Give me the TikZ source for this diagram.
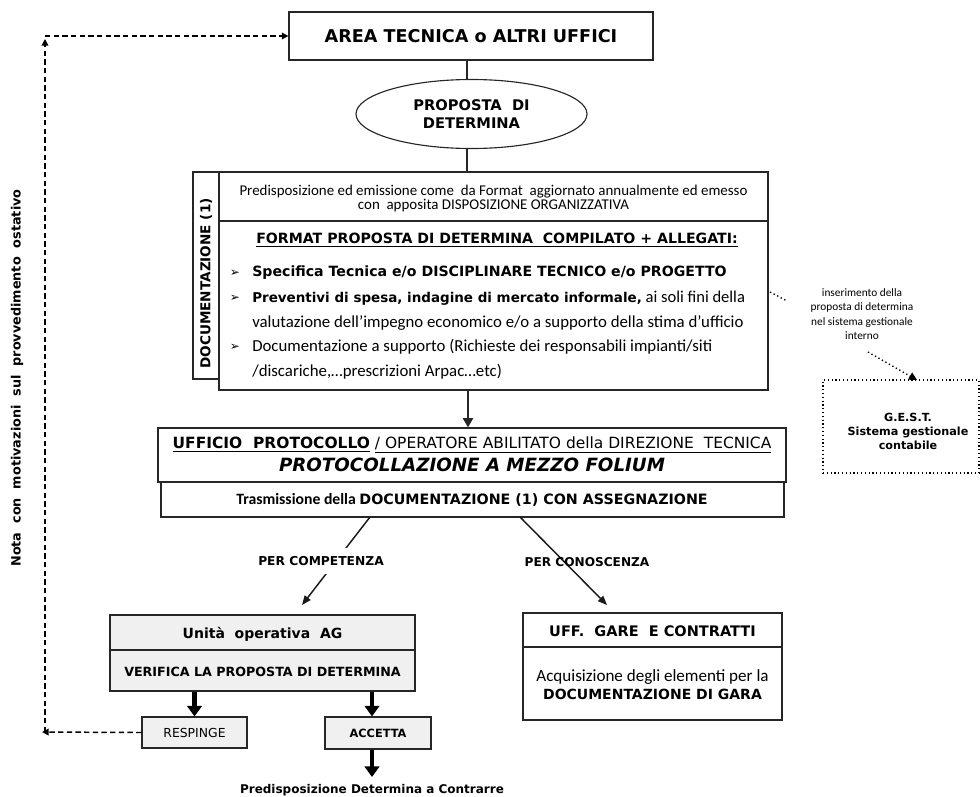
\documentclass[tikz,border=0pt]{standalone}
\usepackage{fontspec}
\setmainfont{Carlito}
\newfontfamily\verd{DejaVu Sans}[BoldFont={DejaVu Sans Bold},ItalicFont={DejaVu Sans Oblique},BoldItalicFont={DejaVu Sans Bold Oblique}]
\newfontfamily\symf{DejaVu Sans}
\usetikzlibrary{arrows.meta,shapes.geometric,fit}
\newcommand{\fs}[1]{\fontsize{#1}{#1}\selectfont}
\begin{document}
\begin{tikzpicture}[x=0.75pt,y=-0.75pt,
  box/.style={draw=black!85,line width=0.85pt,inner sep=0pt,align=center},
  gbox/.style={box,fill=black!6},
  conn/.style={line width=2.2pt,draw=black!85},
  midarrow/.style={line width=1.8pt,draw=black!85,-{Triangle[length=7pt,width=7.5pt]}},
  thinarrow/.style={line width=1.1pt,draw=black!90,-{Triangle[length=7pt,width=5.5pt]}},
  bigarrow/.style={line width=3.4pt,draw=black,-{Triangle[length=8pt,width=11pt]}},
  dasharrow/.style={line width=1.1pt,dash pattern=on 4pt off 2.5pt,-{Triangle[length=5pt,width=5pt]}},
  dotline/.style={line width=1pt,dotted},
  txt/.style={inner sep=0pt,align=center}
]
\useasboundingbox (0,0) rectangle (980,796);

% top
\node[box,fit={(289,12) (653,60)}] (top) {};
\node[txt] (toptxt) at (471,36) {\verd\bfseries\fs{13.2}AREA TECNICA o ALTRI UFFICI};
\node[draw=black!85,line width=0.85pt,ellipse,minimum width=231*0.75pt,minimum height=69*0.75pt,inner sep=0pt,align=center,font=\verd\bfseries\fontsize{11}{13.5}\selectfont] (prop) at (471.5,114) {PROPOSTA\ \ DI\\DETERMINA};

% documentazione
\node[box,fit={(193,172) (219,379)}] (strip) {};
\node[txt,rotate=90] (striptxt) at (206,283.5) {\verd\bfseries\fs{10.2}DOCUMENTAZIONE (1)};
\node[box,fill=white,fit={(219,172) (768,221)}] (hdr) {};
\node[txt,font=\fontsize{11.2}{10.5}\selectfont] (hdrtxt) at (493.5,199) {Predisposizione ed emissione come\ \ da Format\ \ aggiornato annualmente ed emesso\\con\ \ apposita DISPOSIZIONE ORGANIZZATIVA};
\node[box,fill=white,fit={(219,221) (768,390)}] (main) {};
\node[txt] (fmt) at (497,240) {\verd\bfseries\fs{10.6}\underline{FORMAT PROPOSTA DI DETERMINA\ \ COMPILATO + ALLEGATI:}};
\node[txt] (b1) at (235,273) {\symf\fs{9}➢};
\node[txt,anchor=west] (l1) at (252,273) {\verd\bfseries\fs{10.6}Specifica Tecnica e/o DISCIPLINARE TECNICO e/o PROGETTO};
\node[txt] (b2) at (235,298) {\symf\fs{9}➢};
\node[txt,anchor=west] (l2) at (252,298) {\fs{12.4}{\verd\bfseries\fs{10.1}Preventivi di spesa, indagine di mercato informale,} ai soli fini della};
\node[txt,anchor=west] (l3) at (252,323) {\fs{12.6}valutazione dell’impegno economico e/o a supporto della stima d’ufficio};
\node[txt] (b4) at (235,347) {\symf\fs{9}➢};
\node[txt,anchor=west] (l4) at (252,347) {\fs{12.6}Documentazione a supporto (Richieste dei responsabili impianti/siti};
\node[txt,anchor=west] (l5) at (252,372) {\fs{12.6}/discariche,…prescrizioni Arpac…etc)};

\draw[conn] (top.south -| 467,0) -- (prop.north -| 467,0);
\draw[conn] (prop.south -| 467,0) -- (hdr.north -| 467,0);

% G.E.S.T.
\coordinate (d1) at (770,292);
\coordinate (d2) at (787,301);
\draw[dotline] (d1) -- (d2);
\node[txt,font=\fontsize{8.5}{10.9}\selectfont] (ins) at (862,314) {inserimento della\\proposta di determina\\nel sistema gestionale\\interno};
\node[box,draw=black,dotted,line width=0.9pt,fit={(823,380) (979,473)}] (gest) {};
\node[txt,font=\verd\bfseries\fontsize{8.4}{10.5}\selectfont] (gesttxt) at (908,431) {G.E.S.T.\\Sistema gestionale\\contabile};
\coordinate (d3) at (868,352);
\coordinate (d4) at (917,380);
\draw[dotline,-{Triangle[length=6pt,width=6pt]}] (d3) -- (d4);

% protocollo
\node[box,fit={(158,428) (786,482)}] (up) {};
\draw[midarrow] (main.south -| 468,0) -- (up.north -| 468,0);
\node[txt] (up1) at (472,445) {\verd\fs{11.6}\underline{\bfseries UFFICIO\ \ PROTOCOLLO}\ \underline{/ OPERATORE ABILITATO della DIREZIONE\ \ TECNICA}};
\node[txt] (up2) at (472,465) {\verd\bfseries\itshape\fs{13.7}PROTOCOLLAZIONE A MEZZO FOLIUM};
\node[box,fill=white,fit={(161,482) (784,517)}] (trans) {};
\node[txt] (transtxt) at (472,500) {\bfseries\fs{11.8}Trasmissione della {\verd\fs{10.7}DOCUMENTAZIONE (1) CON ASSEGNAZIONE}};

% diagonals
\coordinate (tL) at (370,517);
\coordinate (aL) at (302,605);
\draw[thinarrow] (tL) -- (aL);
\node[txt,fill=white,inner ysep=6pt] (pcomp) at (321,561) {\verd\bfseries\fs{9.2}PER COMPETENZA};
\coordinate (tR) at (520,517);
\coordinate (aR) at (607,605);
\draw[thinarrow] (tR) -- (aR);
\node[txt] (pcon) at (587,562) {\verd\bfseries\fs{9.1}PER CONOSCENZA};

% unita operativa
\node[gbox,fit={(110,615) (415,650)}] (uo) {};
\node[txt] (uotxt) at (262.5,634) {\verd\bfseries\fs{10.5}Unità\ \ operativa\ \ AG};
\node[gbox,fit={(110,650) (415,691)}] (ver) {};
\node[txt] (vertxt) at (262.5,672) {\verd\bfseries\fs{9.5}VERIFICA LA PROPOSTA DI DETERMINA};
\node[gbox,fit={(142,717) (247,748)}] (resp) {};
\node[txt] (resptxt) at (resp.center) {\verd\fs{9.3}RESPINGE};
\node[gbox,fit={(325,717) (431,749)}] (acc) {};
\node[txt] (acctxt) at (acc.center) {\verd\bfseries\fs{8.5}ACCETTA};
\draw[bigarrow] (ver.south -| resp.north) -- (resp.north);
\draw[bigarrow] (ver.south -| 372,0) -- (acc.north -| 372,0);
\node[txt] (pred) at (372,790) {\verd\bfseries\fs{9}Predisposizione Determina a Contrarre};
\draw[bigarrow] (acc.south -| 372,0) -- (372,777);

% gare
\node[box,fit={(523,613) (782,647)}] (gare) {};
\node[txt] (garetxt) at (652.5,631) {\verd\bfseries\fs{10.9}UFF.\ \ GARE\ \ E CONTRATTI};
\node[box,fit={(523,647) (782,720)}] (gare2) {};
\node[txt,font=\fontsize{12.8}{13.5}\selectfont] (gare2txt) at (652.5,685) {Acquisizione degli elementi per la\\{\verd\bfseries\fs{10.5}DOCUMENTAZIONE DI GARA}};

% dashed return
\coordinate (dl) at (42,732);
\coordinate (dv) at (45,732);
\coordinate (dt) at (45,39);
\coordinate (dh) at (45,36);
\draw[dasharrow] (resp.west) -- (dl);
\draw[dasharrow] (dv) -- (dt);
\draw[dasharrow] (dh) -- (top.west);
\node[txt,rotate=90] (nota) at (17,378) {\verd\bfseries\fs{9.6}Nota\ \ con\ \ motivazioni\ \ sul\ \ provvedimento\ \ ostativo};
\end{tikzpicture}
\end{document}
